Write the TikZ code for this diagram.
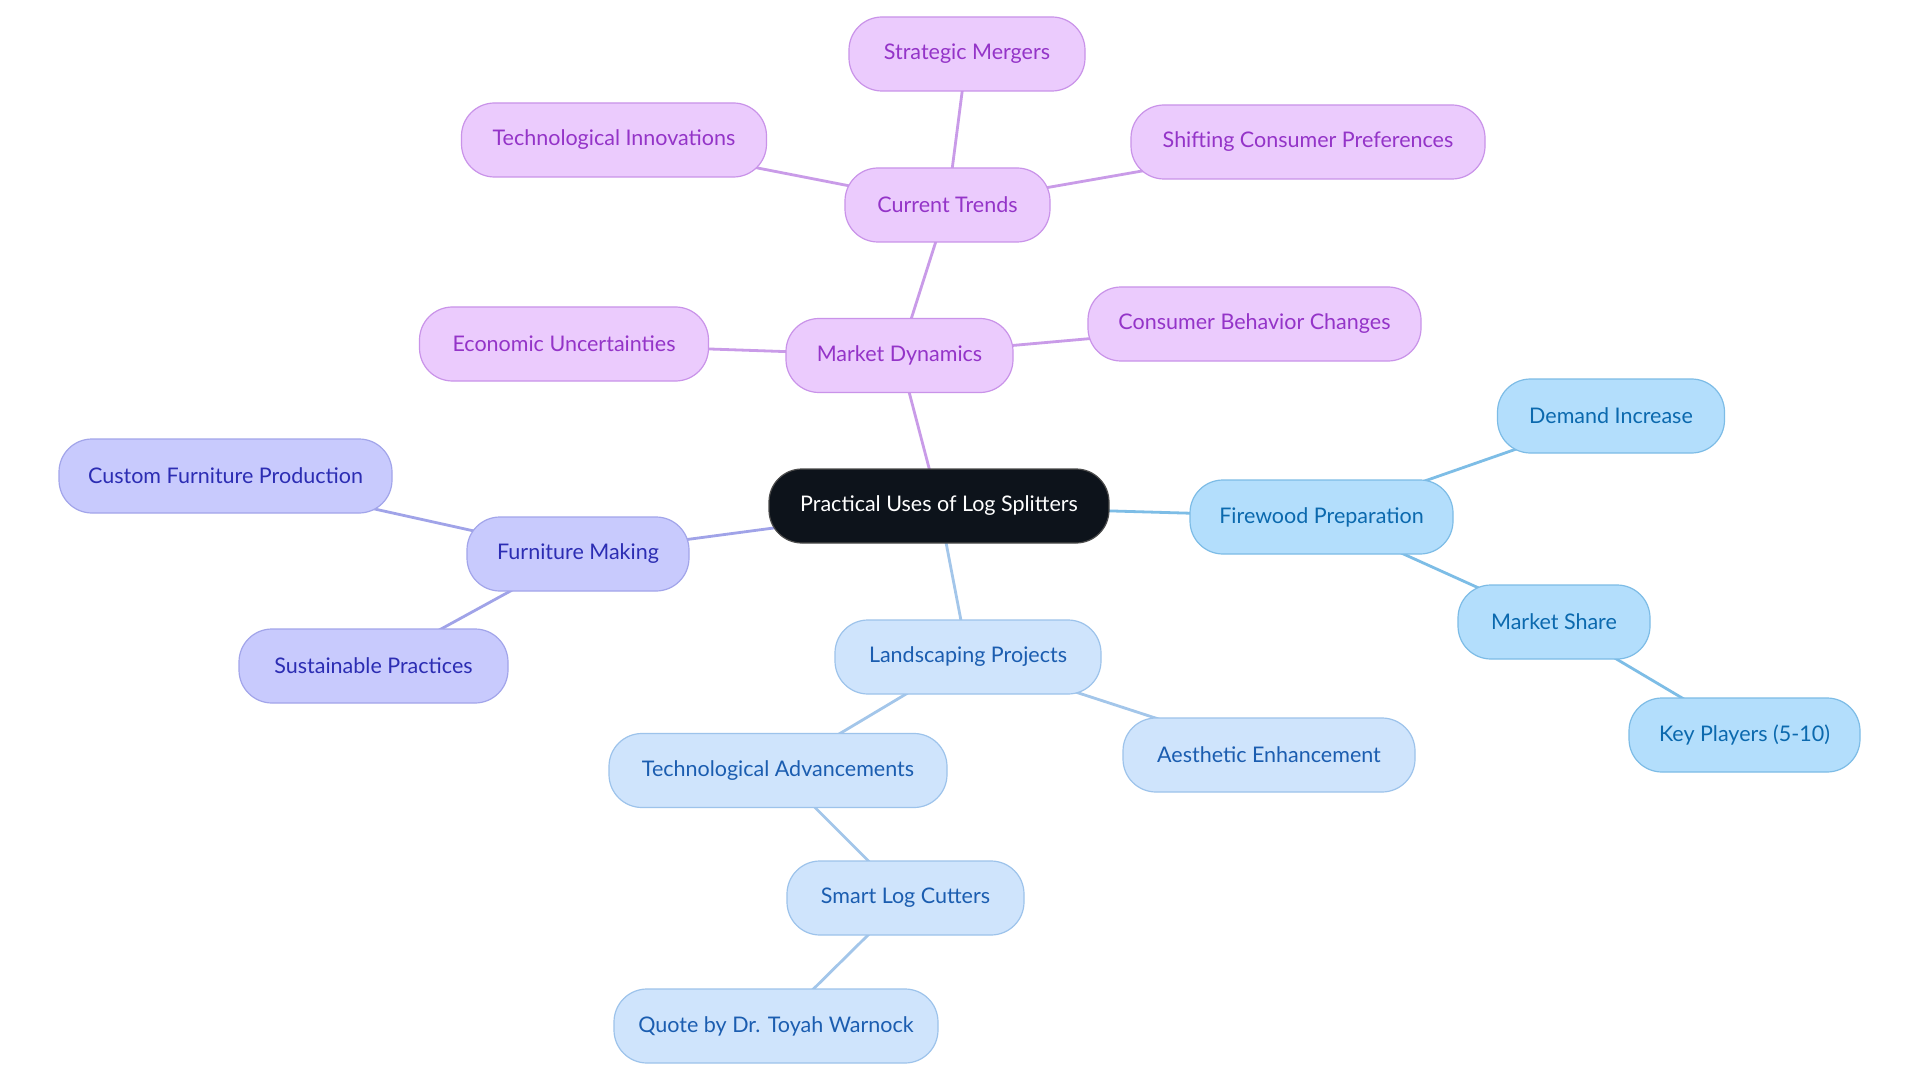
\documentclass[tikz,border=0pt]{standalone}
\usepackage{fontspec}
\setmainfont{Lato}
\usetikzlibrary{backgrounds}
\definecolor{pfill}{HTML}{EBCBFD}
\definecolor{pdraw}{HTML}{C993E9}
\definecolor{ptext}{HTML}{9434C8}
\definecolor{pline}{HTML}{C99BE8}
\definecolor{ifill}{HTML}{C8CAFD}
\definecolor{idraw}{HTML}{A2A5EA}
\definecolor{itext}{HTML}{2C2DB3}
\definecolor{iline}{HTML}{A0A3E8}
\definecolor{lfill}{HTML}{CFE4FC}
\definecolor{ldraw}{HTML}{9DC3EB}
\definecolor{ltext}{HTML}{1B5DB0}
\definecolor{lline}{HTML}{A3C6EA}
\definecolor{sfill}{HTML}{B3DEFC}
\definecolor{sdraw}{HTML}{7DBCE6}
\definecolor{stext}{HTML}{0B69AE}
\definecolor{sline}{HTML}{7DBDE6}
\definecolor{cfill}{HTML}{0D131B}
\begin{document}
\begin{tikzpicture}[x=1pt,y=-1pt,
  base/.style={draw, rounded corners=33pt, minimum height=74pt, line width=1.2pt,
    font=\fontsize{21.5}{24}\selectfont, inner sep=0pt, align=center},
  purp/.style={base, fill=pfill, draw=pdraw, text=ptext},
  indi/.style={base, fill=ifill, draw=idraw, text=itext},
  lblue/.style={base, fill=lfill, draw=ldraw, text=ltext},
  sky/.style={base, fill=sfill, draw=sdraw, text=stext},
  root/.style={base, fill=cfill, draw=gray!60!black, text=white},
  conn/.style={line width=2.8pt}
]
\path[use as bounding box] (0,0) rectangle (1920,1083);
\node[root, minimum width=340pt] (C) at (939,506) {Practical Uses of Log Splitters};
\node[purp, minimum width=227pt] (MD) at (899.5,355.5) {Market Dynamics};
\node[purp, minimum width=205pt] (CT) at (947.5,205) {Current Trends};
\node[purp, minimum width=236pt] (SM) at (967,54) {Strategic Mergers};
\node[purp, minimum width=305pt] (TI) at (614,140) {Technological Innovations};
\node[purp, minimum width=354pt] (SCP) at (1308,142) {Shifting Consumer Preferences};
\node[purp, minimum width=289pt] (EU) at (564,344) {Economic Uncertainties};
\node[purp, minimum width=333pt] (CBC) at (1254.5,324) {Consumer Behavior Changes};
\node[indi, minimum width=222pt] (FM) at (578,554) {Furniture Making};
\node[indi, minimum width=333pt] (CFP) at (225.5,476) {Custom Furniture Production};
\node[indi, minimum width=269pt] (SP) at (373.5,666) {Sustainable Practices};
\node[sky, minimum width=263pt] (FP) at (1321.5,517) {Firewood Preparation};
\node[sky, minimum width=227pt] (DI) at (1611,416) {Demand Increase};
\node[sky, minimum width=192pt] (MS) at (1554,622) {Market Share};
\node[sky, minimum width=231pt] (KP) at (1744.5,735) {Key Players (5-10)};
\node[lblue, minimum width=266pt] (LP) at (968,657) {Landscaping Projects};
\node[lblue, minimum width=292pt] (AE) at (1269,755) {Aesthetic Enhancement};
\node[lblue, minimum width=338pt] (TA) at (778,770.5) {Technological Advancements};
\node[lblue, minimum width=237pt] (SLC) at (905.5,898) {Smart Log Cutters};
\node[lblue, minimum width=324pt] (Q) at (776,1026) {Quote by Dr. Toyah Warnock};
\begin{scope}[on background layer]
  \fill[white] (0,0) rectangle (1920,1083);
  \draw[conn, pline] (C.center) -- (MD.center);
  \draw[conn, pline] (MD.center) -- (CT.center);
  \draw[conn, pline] (CT.center) -- (SM.center);
  \draw[conn, pline] (CT.center) -- (TI.center);
  \draw[conn, pline] (CT.center) -- (SCP.center);
  \draw[conn, pline] (MD.center) -- (EU.center);
  \draw[conn, pline] (MD.center) -- (CBC.center);
  \draw[conn, iline] (C.center) -- (FM.center);
  \draw[conn, iline] (FM.center) -- (CFP.center);
  \draw[conn, iline] (FM.center) -- (SP.center);
  \draw[conn, sline] (C.center) -- (FP.center);
  \draw[conn, sline] (FP.center) -- (DI.center);
  \draw[conn, sline] (FP.center) -- (MS.center);
  \draw[conn, sline] (MS.center) -- (KP.center);
  \draw[conn, lline] (C.center) -- (LP.center);
  \draw[conn, lline] (LP.center) -- (TA.center);
  \draw[conn, lline] (LP.center) -- (AE.center);
  \draw[conn, lline] (TA.center) -- (SLC.center);
  \draw[conn, lline] (SLC.center) -- (Q.center);
\end{scope}
\end{tikzpicture}
\end{document}
